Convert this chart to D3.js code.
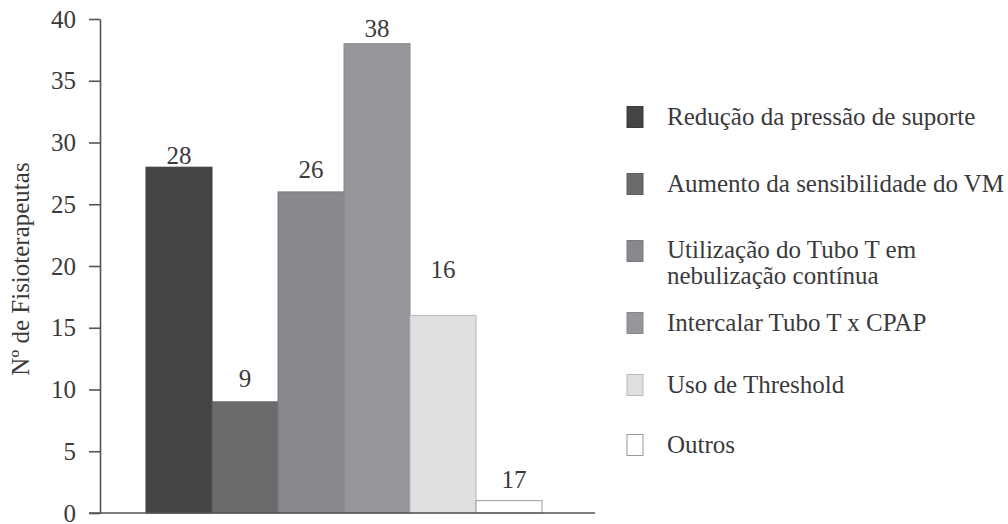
<!DOCTYPE html>
<html>
<head>
<meta charset="utf-8">
<script src="https://cdn.jsdelivr.net/npm/d3@7"></script>
<style>
body { margin:0; background:#fff; }
text { font-family:"Liberation Serif","Times New Roman",serif; fill:#3a3a3c; }
</style>
</head>
<body>
<svg id="graph"></svg>
<script>
// categories, bar heights and the printed labels (last bar is printed "17" but drawn at 1)
var categories = ["Redução da pressão de suporte","Aumento da sensibilidade do VM","Utilização do Tubo T em nebulização contínua","Intercalar Tubo T x CPAP","Uso de Threshold","Outros"]
var legendLines = [["Redução da pressão de suporte"],["Aumento da sensibilidade do VM"],["Utilização do Tubo T em","nebulização contínua"],["Intercalar Tubo T x CPAP"],["Uso de Threshold"],["Outros"]]
var values = [28,9,26,38,16,1]
var valueLabels = ["28","9","26","38","16","17"]
var yTicks = [0,5,10,15,20,25,30,35,40]

var colors = ["#444446","#6b6b6d","#88898c","#96979a","#dfe0e2","#ffffff"]
var strokes = ["#3a3a3c","#5e5e60","#7a7b7e","#86878a","#b8b9bb","#9a9a9c"]
// label nudges above bar top, px (the printed labels are not evenly spaced)
var labelNudge = [-3,-15,-14,-7,-37,-13]
// legend row centres, px
var legendY = [117,184,251,323,385,445]

var screen = {width:1008,height:524}

var svg = d3.select("#graph")
    .attr("width",screen.width)
    .attr("height",screen.height)

var xScale = d3.scaleBand()
    .domain(categories)
    .range([146,542])
    .padding(0)

var yScale = d3.scaleLinear()
    .domain([0,40])
    .range([513,19])

// bars
svg.selectAll("rect.bar")
    .data(values)
    .enter()
    .append("rect")
    .attr("class","bar")
    .attr("x",function(d,i){ return xScale(categories[i]) })
    .attr("y",function(d){ return yScale(d) })
    .attr("width",xScale.bandwidth())
    .attr("height",function(d){ return yScale(0)-yScale(d) })
    .attr("fill",function(d,i){ return colors[i] })
    .attr("stroke",function(d,i){ return strokes[i] })
    .attr("stroke-width",1)

// value labels
svg.selectAll("text.val")
    .data(values)
    .enter()
    .append("text")
    .attr("class","val")
    .attr("x",function(d,i){ return xScale(categories[i])+xScale.bandwidth()/2 + (i==5?5:0) })
    .attr("y",function(d,i){ return yScale(d)+labelNudge[i] })
    .attr("text-anchor","middle")
    .style("font-size","25px")
    .text(function(d,i){ return valueLabels[i] })

// y axis
var yAxis = d3.axisLeft(yScale)
    .tickValues(yTicks)
    .tickSize(11)
    .tickSizeOuter(0)
    .tickPadding(13)

var ag = svg.append("g")
    .attr("transform","translate(100,0)")
    .call(yAxis)
ag.select(".domain").attr("stroke","#555").attr("stroke-width",1.6)
ag.selectAll(".tick line").attr("stroke","#555").attr("stroke-width",1.6)
ag.selectAll(".tick text")
    .style("font-size","25px")
    .style("font-family","Liberation Serif")
    .attr("fill","#3a3a3c")

// baseline
svg.append("line")
    .attr("x1",89).attr("x2",595)
    .attr("y1",yScale(0)).attr("y2",yScale(0))
    .attr("stroke","#555")
    .attr("stroke-width",1.6)

// y title
svg.append("text")
    .attr("transform","translate(29,269) rotate(-90)")
    .attr("text-anchor","middle")
    .style("font-size","25px")
    .text("Nº de Fisioterapeutas")

// legend
var lg = svg.selectAll("g.leg")
    .data(categories)
    .enter()
    .append("g")
    .attr("class","leg")
    .attr("transform",function(d,i){ return "translate(627,"+legendY[i]+")" })

lg.append("rect")
    .attr("x",0).attr("y",-10.5)
    .attr("width",16).attr("height",21)
    .attr("fill",function(d,i){ return colors[i] })
    .attr("stroke",function(d,i){ return strokes[i] })
    .attr("stroke-width",1)

lg.append("text")
    .attr("x",40)
    .attr("y",function(d,i){ return legendLines[i].length>1 ? 7 : 8 })
    .style("font-size","25px")
    .selectAll("tspan")
    .data(function(d,i){ return legendLines[i] })
    .enter()
    .append("tspan")
    .attr("x",40)
    .attr("dy",function(d,j){ return j==0 ? 0 : 26 })
    .text(function(d){ return d })
</script>
</body>
</html>
